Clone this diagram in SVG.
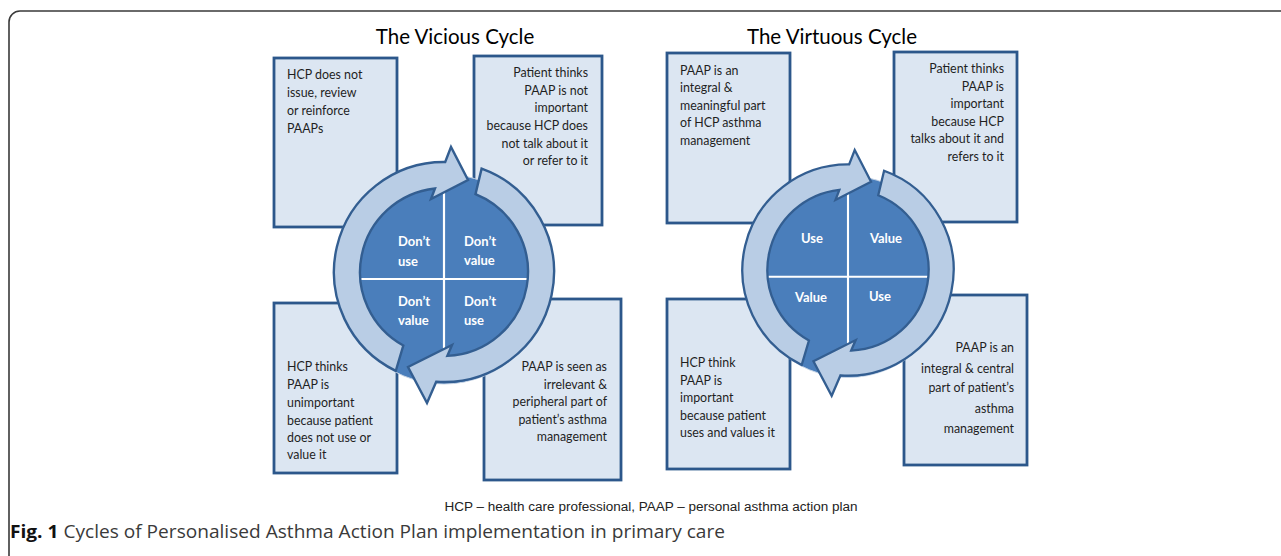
<svg xmlns="http://www.w3.org/2000/svg" width="1281" height="556" viewBox="0 0 1281 556">
<style>
.frame{fill:#fff;stroke:#3a3a3a;stroke-width:1.6}
.box{fill:#dce6f2;stroke:#2c578b;stroke-width:2.8}
.bt{font-family:Lato,"Open Sans",sans-serif;font-size:12.4px;fill:#1f1f1f}
.r{text-anchor:end}
.ring{fill:#b9cde5;stroke:#335e91;stroke-width:2.4;stroke-linejoin:miter}
.core{fill:#4a7ebb;stroke:#c8d5e6;stroke-width:1}
.div{stroke:#fff;stroke-width:2.2}
.ql{font-family:Lato,"Open Sans",sans-serif;font-size:13px;font-weight:bold;fill:#fff}
.title{font-family:Lato,"Open Sans",sans-serif;font-size:20.5px;fill:#000;text-anchor:middle}
.foot{font-family:"Liberation Sans",Arial,sans-serif;font-size:12px;fill:#222;text-anchor:middle}
.cap{font-family:"Open Sans",sans-serif;font-size:18px;fill:#3a3a3a}
</style>
<defs>
<path id="arrowA" d="M -48.2 98.9 A 110 110 0 0 1 1.2 -110 L 7 -125 L 24 -92 L -13 -73 L -9 -83.5 A 84 84 0 0 0 -40.7 73.5 Z"/>
<path id="arrowB" d="M 37.6 -103.4 A 110 110 0 0 1 -7.8 109.7 L -17 131 L -36 95 L 8 73 L 3.3 83.9 A 84 84 0 0 0 31.5 -77.9 Z"/>
<g id="cycleCore">
<circle class="core" cx="0" cy="7" r="105"/>
<line class="div" x1="0" y1="-95" x2="0" y2="100"/>
<line class="div" x1="-95" y1="7" x2="95" y2="7"/>
</g>
</defs>
<rect class="frame" x="9" y="11" width="1320" height="620" rx="11"/>
<text class="title" x="455" y="44">The Vicious Cycle</text>
<text class="title" x="832" y="44">The Virtuous Cycle</text>

<g id="vicious-tl">
<rect class="box" x="274" y="58" width="123" height="169"/>
<text class="bt" x="287" y="79">HCP does not</text>
<text class="bt" x="287" y="97">issue, review</text>
<text class="bt" x="287" y="115">or reinforce</text>
<text class="bt" x="287" y="133">PAAPs</text>
</g>
<g id="vicious-tr">
<rect class="box" x="474" y="56" width="128" height="169"/>
<text class="bt r" x="588" y="77">Patient thinks</text>
<text class="bt r" x="588" y="95">PAAP is not</text>
<text class="bt r" x="588" y="112">important</text>
<text class="bt r" x="588" y="130">because HCP does</text>
<text class="bt r" x="588" y="148">not talk about it</text>
<text class="bt r" x="588" y="165">or refer to it</text>
</g>
<g id="vicious-bl">
<rect class="box" x="274" y="303" width="123" height="170"/>
<text class="bt" x="287" y="371">HCP thinks</text>
<text class="bt" x="287" y="389">PAAP is</text>
<text class="bt" x="287" y="407">unimportant</text>
<text class="bt" x="287" y="425">because patient</text>
<text class="bt" x="287" y="442">does not use or</text>
<text class="bt" x="287" y="459">value it</text>
</g>
<g id="vicious-br">
<rect class="box" x="484" y="299" width="137" height="181"/>
<text class="bt r" x="607" y="371">PAAP is seen as</text>
<text class="bt r" x="607" y="389">irrelevant &amp;</text>
<text class="bt r" x="607" y="406">peripheral part of</text>
<text class="bt r" x="607" y="424">patient’s asthma</text>
<text class="bt r" x="607" y="441">management</text>
</g>

<g id="virtuous-tl">
<rect class="box" x="667" y="53" width="123" height="170"/>
<text class="bt" x="680" y="75">PAAP is an</text>
<text class="bt" x="680" y="92">integral &amp;</text>
<text class="bt" x="680" y="110">meaningful part</text>
<text class="bt" x="680" y="127">of HCP asthma</text>
<text class="bt" x="680" y="145">management</text>
</g>
<g id="virtuous-tr">
<rect class="box" x="894" y="52" width="123" height="170"/>
<text class="bt r" x="1004" y="73">Patient thinks</text>
<text class="bt r" x="1004" y="91">PAAP is</text>
<text class="bt r" x="1004" y="108">important</text>
<text class="bt r" x="1004" y="126">because HCP</text>
<text class="bt r" x="1004" y="143">talks about it and</text>
<text class="bt r" x="1004" y="161">refers to it</text>
</g>
<g id="virtuous-bl">
<rect class="box" x="667" y="299" width="123" height="170"/>
<text class="bt" x="680" y="367">HCP think</text>
<text class="bt" x="680" y="385">PAAP is</text>
<text class="bt" x="680" y="402">important</text>
<text class="bt" x="680" y="420">because patient</text>
<text class="bt" x="680" y="437">uses and values it</text>
</g>
<g id="virtuous-br">
<rect class="box" x="904" y="295" width="123" height="170"/>
<text class="bt r" x="1014" y="352">PAAP is an</text>
<text class="bt r" x="1014" y="373">integral &amp; central</text>
<text class="bt r" x="1014" y="392">part of patient’s</text>
<text class="bt r" x="1014" y="413">asthma</text>
<text class="bt r" x="1014" y="433">management</text>
</g>

<g id="vicious-cycle">
<g transform="translate(444,272)">
<use href="#cycleCore"/>
<g id="connectors-vicious">
<use href="#arrowA" class="ring"/>
<use href="#arrowB" class="ring"/>
</g>
</g>
<text class="ql" x="398" y="246">Don’t</text>
<text class="ql" x="398" y="266">use</text>
<text class="ql" x="464" y="246">Don’t</text>
<text class="ql" x="464" y="265">value</text>
<text class="ql" x="398" y="306">Don’t</text>
<text class="ql" x="398" y="325">value</text>
<text class="ql" x="464" y="306">Don’t</text>
<text class="ql" x="464" y="325">use</text>
</g>

<g id="virtuous-cycle">
<g transform="translate(848,270) scale(0.96)">
<use href="#cycleCore"/>
<g id="connectors-virtuous">
<use href="#arrowA" class="ring"/>
<use href="#arrowB" class="ring"/>
</g>
</g>
<text class="ql" x="812" y="243" text-anchor="middle">Use</text>
<text class="ql" x="886" y="243" text-anchor="middle">Value</text>
<text class="ql" x="811" y="302" text-anchor="middle">Value</text>
<text class="ql" x="880" y="301" text-anchor="middle">Use</text>
</g>

<text class="foot" x="651" y="511" textLength="413" lengthAdjust="spacingAndGlyphs">HCP – health care professional, PAAP – personal asthma action plan</text>
<text class="cap" x="10" y="538" textLength="715" lengthAdjust="spacingAndGlyphs"><tspan font-weight="bold" fill="#111">Fig. 1</tspan> Cycles of Personalised Asthma Action Plan implementation in primary care</text>
</svg>
